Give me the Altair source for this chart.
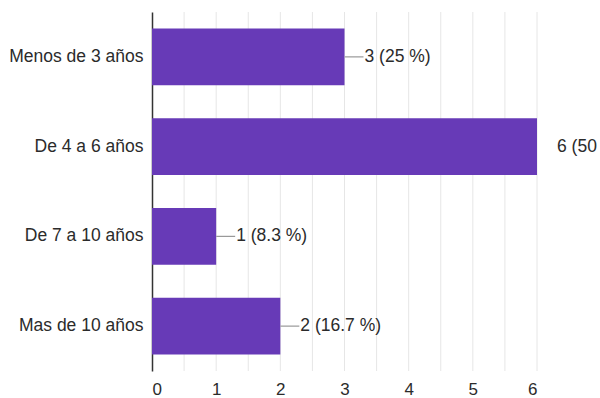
import altair as alt
import pandas as pd

categories = ["Menos de 3 años", "De 4 a 6 años", "De 7 a 10 años", "Mas de 10 años"]
values = [3, 6, 1, 2]
labels = ["3 (25 %)", "6 (50 %)", "1 (8.3 %)", "2 (16.7 %)"]
x_ticks = [0, 1, 2, 3, 4, 5, 6]
grid_vals = [0.5, 1, 1.5, 2, 2.5, 3, 3.5, 4, 4.5, 5, 5.5, 6]

df = pd.DataFrame({"cat": categories, "val": values, "lab": labels})
gdf = pd.DataFrame({"g": grid_vals})

FONT = "Liberation Sans"
PURPLE = "#673ab7"
TXT = "#2b2b2b"

x_scale = alt.Scale(domain=[0, 6], nice=False)

y_enc = alt.Y("cat:N", sort=categories, title=None,
              scale=alt.Scale(paddingInner=0.37, paddingOuter=0.185),
              axis=alt.Axis(domain=True, domainColor="#333333", domainWidth=1.5,
                            ticks=False, labelPadding=9, labelFontSize=17.5,
                            labelColor=TXT, labelFont=FONT, grid=False))
x_enc = alt.X("val:Q", title=None, scale=x_scale,
              axis=alt.Axis(values=x_ticks, domain=False, ticks=False, format="d",
                            labelFontSize=17, labelColor=TXT, labelFont=FONT,
                            labelPadding=10, grid=False))

grid = alt.Chart(gdf).mark_rule(color="#e6e6e6", strokeWidth=1).encode(
    x=alt.X("g:Q", scale=x_scale))

bars = alt.Chart(df).mark_bar(color=PURPLE).encode(x=x_enc, y=y_enc)

leaders = alt.Chart(df).mark_rule(color="#999999", strokeWidth=1.2, x2Offset=19, clip=True).encode(
    x="val:Q", x2="val:Q", y=alt.Y("cat:N", sort=categories))

texts = alt.Chart(df).mark_text(align="left", baseline="middle", dx=20, fontSize=17.5,
                                font=FONT, color=TXT).encode(
    x="val:Q", y=alt.Y("cat:N", sort=categories), text="lab:N")

chart = alt.layer(grid, bars, leaders, texts).properties(
    width=385, height=359,
    autosize=alt.AutoSizeParams(type="none"),
    padding={"left": 152, "top": 12, "right": 63, "bottom": 27},
).configure_view(stroke=None)

chart.save("out.html", embed_options={"renderer": "svg", "actions": False})
